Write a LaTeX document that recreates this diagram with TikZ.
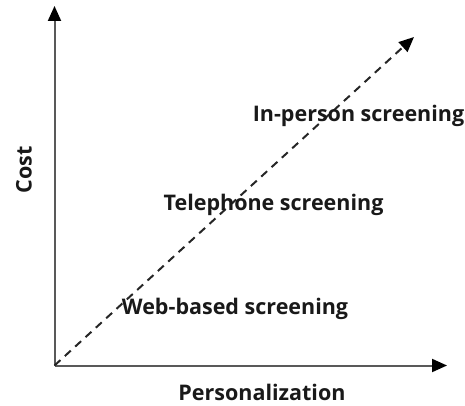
\documentclass[tikz,border=0pt]{standalone}
\usepackage{fontspec}
\setmainfont{Open Sans}
\usetikzlibrary{arrows.meta}
\begin{document}
\begin{tikzpicture}[x=1pt,y=-1pt,
  axis/.style={draw=black!65,line width=2pt,-{Triangle[length=15pt,width=13pt,color=black]}},
  trend/.style={draw=black!85,line width=2pt,dash pattern=on 8pt off 6pt,-{Triangle[length=15pt,width=13pt,color=black]}},
  lbl/.style={font=\fontsize{21.5}{25}\selectfont\bfseries,inner sep=0pt,text=black!90}]
\useasboundingbox (0,0) rectangle (465,406);
\coordinate (O) at (54.5,365.5);
\coordinate (ytip) at (54.5,6);
\coordinate (xtip) at (447,365.5);
\coordinate (dtip) at (414,37);
\draw[axis] (O) -- (ytip);
\draw[axis] (O) -- (xtip);
\draw[trend] (O) -- (dtip);
\node[lbl] (inperson) at (358.5,116) {In-person screening};
\node[lbl] (tele) at (273.5,205) {Telephone screening};
\node[lbl] (web) at (235,309) {Web-based screening};
\node[lbl] (pers) at (262,392) {Personalization};
\node[lbl,rotate=90] (cost) at (24,170) {Cost};
\end{tikzpicture}
\end{document}
